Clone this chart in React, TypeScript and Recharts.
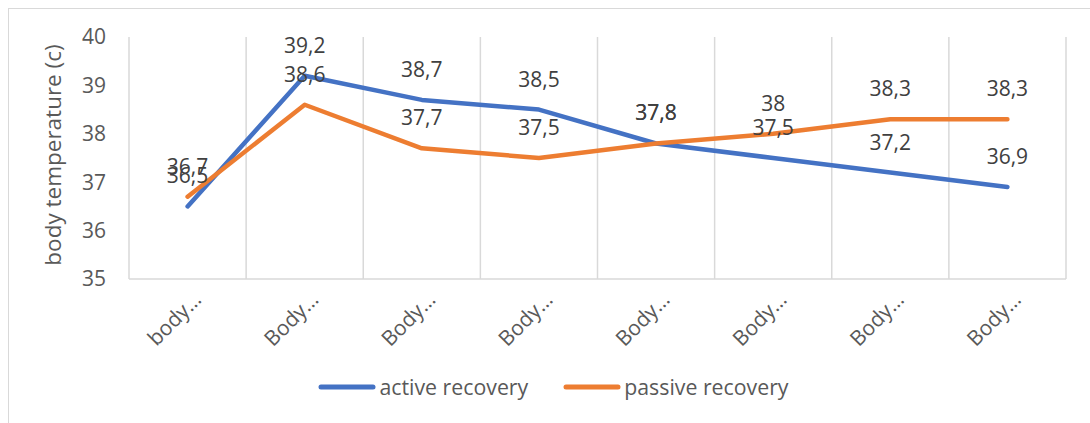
import { LineChart, Line, XAxis, YAxis, CartesianGrid, Legend, LabelList } from 'recharts';

const categories = ['body…', 'Body…', 'Body…', 'Body…', 'Body…', 'Body…', 'Body…', 'Body…'];
const activeRecovery = [36.5, 39.2, 38.7, 38.5, 37.8, 37.5, 37.2, 36.9];
const passiveRecovery = [36.7, 38.6, 37.7, 37.5, 37.8, 38, 38.3, 38.3];
const yTicks = [35, 36, 37, 38, 39, 40];

const data = categories.map((name, i) => ({
  name,
  active: activeRecovery[i],
  passive: passiveRecovery[i],
}));

const FONT = '"Open Sans", sans-serif';
const BLUE = '#4472C4';
const ORANGE = '#ED7D31';
const HALF_BAND = 58.6;

const withComma = (v: any) => String(v).replace('.', ',');

// rotated category label, end anchored below the band centre
const XTick = (props: any) => {
  const { x, y, payload } = props;
  const tx = x + 15;
  const ty = y + 20;
  return (
    <text
      x={tx}
      y={ty}
      transform={`rotate(-45, ${tx}, ${ty})`}
      textAnchor="end"
      fontSize={21}
      fontFamily={FONT}
      fill="#595959"
    >
      {payload.value}
    </text>
  );
};

const YTitle = (props: any) => {
  const { viewBox } = props;
  const cx = viewBox.x + 43;
  const cy = viewBox.y + viewBox.height / 2 - 3;
  return (
    <text
      x={cx}
      y={cy}
      transform={`rotate(-90, ${cx}, ${cy})`}
      textAnchor="middle"
      dominantBaseline="central"
      fontSize={22.5}
      fontFamily={FONT}
      fill="#595959"
    >
      body temperature (c)
    </text>
  );
};

const renderLegend = (props: any) => {
  const items = (props.payload || []).filter((p: any) => p.type !== 'none');
  return (
    <div style={{ display: 'flex', justifyContent: 'center', alignItems: 'center', height: 30, paddingLeft: 8 }}>
      {items.map((p: any, i: number) => (
        <div key={p.value} style={{ display: 'flex', alignItems: 'center', marginLeft: i ? 35 : 0 }}>
          <svg width={58} height={8}>
            <line x1={3} y1={4} x2={55} y2={4} stroke={p.color} strokeWidth={5} strokeLinecap="round" />
          </svg>
          <span style={{ marginLeft: 3, fontSize: 21.3, fontFamily: FONT, color: '#595959', lineHeight: '30px' }}>
            {p.value}
          </span>
        </div>
      ))}
    </div>
  );
};

export default function App() {
  return (
    <div
      style={{
        marginTop: 8,
        marginLeft: 8,
        width: 1082,
        height: 415,
        borderTop: '1px solid #d9d9d9',
        borderLeft: '1px solid #d9d9d9',
        boxSizing: 'border-box',
        background: '#fff',
      }}
    >
      <style>{`body{margin:0;overflow:hidden;}`}</style>
      <LineChart width={1081} height={414} data={data} margin={{ top: 28, right: 24, left: 0, bottom: 21 }}>
        <CartesianGrid
          horizontal={false}
          stroke="#d9d9d9"
          strokeWidth={1.5}
          verticalCoordinatesGenerator={({ offset }: any) =>
            Array.from({ length: categories.length + 1 }, (_, i) => offset.left + (i * offset.width) / categories.length)
          }
        />
        <XAxis
          dataKey="name"
          interval={0}
          padding={{ left: HALF_BAND, right: HALF_BAND }}
          tickLine={false}
          tickSize={0}
          height={93}
          axisLine={{ stroke: '#d9d9d9', strokeWidth: 1.5 }}
          tick={<XTick />}
        />
        <YAxis
          domain={[35, 40]}
          ticks={yTicks}
          width={120}
          axisLine={false}
          tickLine={false}
          tickSize={0}
          tickMargin={23}
          tick={{ fontSize: 21, fontFamily: FONT, fill: '#595959' }}
          label={<YTitle />}
        />
        <Legend verticalAlign="bottom" content={renderLegend} wrapperStyle={{ left: 0, width: 1081 }} />
        <Line
          type="linear"
          dataKey="active"
          name="active recovery"
          stroke={BLUE}
          strokeWidth={4.5}
          strokeLinecap="round"
          strokeLinejoin="round"
          dot={false}
          activeDot={false}
          isAnimationActive={false}
        />
        <Line
          type="linear"
          dataKey="passive"
          name="passive recovery"
          stroke={ORANGE}
          strokeWidth={4.5}
          strokeLinecap="round"
          strokeLinejoin="round"
          dot={false}
          activeDot={false}
          isAnimationActive={false}
        />
        {/* label-only series so the values sit on top of both lines */}
        <Line dataKey="passive" stroke="none" legendType="none" dot={false} activeDot={false} isAnimationActive={false}>
          <LabelList
            dataKey="passive"
            position="top"
            offset={23}
            formatter={withComma}
            style={{ fontSize: 21, fontFamily: FONT, fill: '#404040' }}
          />
        </Line>
        <Line dataKey="active" stroke="none" legendType="none" dot={false} activeDot={false} isAnimationActive={false}>
          <LabelList
            dataKey="active"
            position="top"
            offset={23}
            formatter={withComma}
            style={{ fontSize: 21, fontFamily: FONT, fill: '#404040' }}
          />
        </Line>
      </LineChart>
    </div>
  );
}
